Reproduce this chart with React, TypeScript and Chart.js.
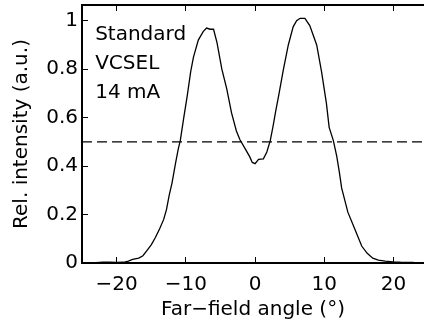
import React, { useEffect, useRef } from "react";
import { Chart, registerables } from "chart.js";

Chart.register(...registerables);

const angles = [
  -23.5, -22, -21, -20, -19, -18.3, -17.7, -16.8, -16.2, -15.6, -15, -14.4, -13.8, -13.2, -12.8, -12.4,
  -12.0, -11.5, -11.1, -10.8, -10.3, -9.8, -9.3, -8.9, -8.2, -7.5, -7.0, -6.5, -6.0, -5.5, -4.8, -4.1,
  -3.4, -2.7, -2.2, -1.4, -0.8, -0.4, 0, 0.5, 1.2, 1.7, 2.2, 2.6, 3.0, 3.4, 4.1, 4.8, 5.5, 6.0, 6.5, 7.2,
  7.9, 8.4, 8.9, 9.6, 10.3, 10.7, 11.3, 11.8, 12.2, 12.5, 13.4, 14.4, 15.4, 16.2, 17.0, 17.8, 18.8,
  19.9, 21, 22.9,
];
const intensity = [
  0, 0.003, 0.004, 0.002, 0.003, 0.008, 0.015, 0.02, 0.03, 0.052, 0.075, 0.105, 0.14, 0.18, 0.22, 0.28,
  0.33, 0.41, 0.47, 0.506, 0.6, 0.69, 0.79, 0.85, 0.92, 0.955, 0.97, 0.965, 0.965, 0.91, 0.8, 0.72,
  0.62, 0.545, 0.51, 0.47, 0.44, 0.415, 0.41, 0.428, 0.43, 0.458, 0.506, 0.565, 0.63, 0.69, 0.8, 0.9, 0.975,
  1.0, 1.01, 1.01, 0.98, 0.94, 0.9, 0.79, 0.66, 0.56, 0.506, 0.44, 0.37, 0.31, 0.21, 0.14, 0.07, 0.04,
  0.02, 0.012, 0.008, 0.005, 0.003, 0.002,
];
const halfMaxLevel = 0.5;
const xMin = -25;
const xMax = 24.4;
const yMin = 0;
const yMax = 1.065;
const annotationLines = ["Standard", "VCSEL", "14 mA"];
const xLabel = "Far\u2212field angle (°)";
const yLabel = "Rel. intensity (a.u.)";

const FONT = "'DejaVu Sans', sans-serif";

const annotationPlugin = {
  id: "annot",
  afterDraw(chart: any) {
    const ctx = chart.ctx;
    const xs = chart.scales.x;
    const ys = chart.scales.y;
    const T = ys.getPixelForValue(ys.max);
    ctx.save();
    ctx.fillStyle = "#000";
    ctx.font = `20px ${FONT}`;
    ctx.textBaseline = "alphabetic";
    ctx.textAlign = "left";
    const tx = xs.getPixelForValue(-23.1);
    annotationLines.forEach((s, i) => {
      ctx.fillText(s, tx, T + 35 + i * 29);
    });
    ctx.restore();
  },
};

const axisGrid = {
  display: true,
  drawOnChartArea: false,
  drawTicks: true,
  tickLength: -6,
  tickWidth: 1,
  tickColor: "#000",
};
const axisBorder = { display: true, width: 2, color: "#000" };

export default function App() {
  const ref = useRef<HTMLCanvasElement>(null);
  useEffect(() => {
    if (!ref.current) return;
    const chart = new Chart(ref.current, {
      type: "line",
      data: {
        datasets: [
          {
            data: angles.map((a, i) => ({ x: a, y: intensity[i] })),
            borderColor: "#000",
            borderWidth: 1.3,
            pointRadius: 0,
            tension: 0,
          },
          {
            data: [
              { x: -25, y: halfMaxLevel },
              { x: 25, y: halfMaxLevel },
            ],
            borderColor: "#000",
            borderWidth: 1.3,
            borderDash: [10, 5],
            pointRadius: 0,
          },
        ],
      },
      options: {
        responsive: false,
        animation: false,
        devicePixelRatio: 1,
        layout: { padding: { top: 5, right: 0, left: 0, bottom: 0 } },
        plugins: { legend: { display: false }, tooltip: { enabled: false } },
        scales: {
          x: {
            type: "linear",
            position: "bottom",
            min: xMin,
            max: xMax,
            afterFit: (s: any) => {
              s.height = 63;
              s.paddingLeft = 0;
              s.paddingRight = 0;
            },
            grid: axisGrid,
            border: axisBorder,
            ticks: {
              includeBounds: false,
              stepSize: 10,
              padding: 16,
              color: "#000",
              font: { family: FONT, size: 20 },
              callback: (v: any) => String(v).replace("-", "\u2212"),
              maxRotation: 0,
              autoSkip: false,
            },
            title: {
              display: true,
              text: xLabel,
              color: "#000",
              font: { family: FONT, size: 20 },
              padding: { top: 0, bottom: 4 },
            },
          },
          x2: {
            type: "linear",
            position: "top",
            min: xMin,
            max: xMax,
            afterFit: (s: any) => {
              s.height = 0;
              s.paddingLeft = 0;
              s.paddingRight = 0;
            },
            grid: axisGrid,
            border: axisBorder,
            ticks: { display: false, includeBounds: false, stepSize: 10 },
          },
          y: {
            type: "linear",
            min: yMin,
            max: yMax,
            afterFit: (s: any) => {
              s.width = 82;
              s.paddingTop = 0;
              s.paddingBottom = 0;
            },
            grid: axisGrid,
            border: axisBorder,
            ticks: {
              includeBounds: false,
              stepSize: 0.2,
              padding: 10,
              color: "#000",
              font: { family: FONT, size: 20 },
              callback: (v: any) => String(Math.round(v * 10) / 10),
            },
            title: {
              display: true,
              text: yLabel,
              color: "#000",
              font: { family: FONT, size: 20 },
              padding: { top: 10, bottom: 0 },
            },
          },
        },
      },
      plugins: [annotationPlugin],
    });
    return () => chart.destroy();
  }, []);
  return (
    <div style={{ position: "fixed", left: 0, top: 0, width: 424, height: 326, background: "#fff" }}>
      <canvas ref={ref} width={424} height={326} />
    </div>
  );
}
